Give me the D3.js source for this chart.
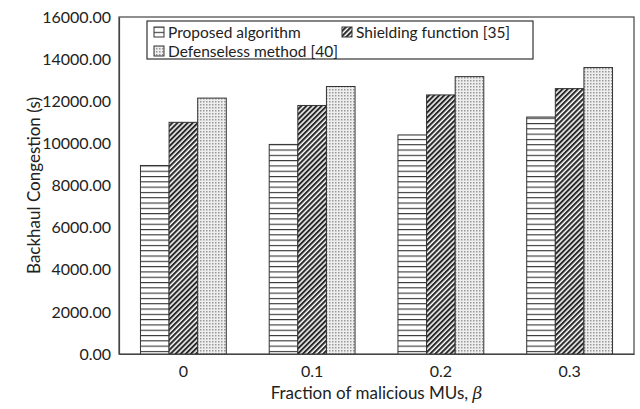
<!DOCTYPE html>
<html>
<head>
<meta charset="utf-8">
<script src="https://cdn.jsdelivr.net/npm/d3@7"></script>
<style>
  body { margin: 0; background: #fff; }
  text { font-family: Lato, "Open Sans", sans-serif; fill: #222; }
</style>
</head>
<body>
<div id="chart"></div>
<script>
// data
var categories = ["0", "0.1", "0.2", "0.3"];
var seriesNames = ["Proposed algorithm", "Shielding function [35]", "Defenseless method [40]"];
var proposed = [8950, 9950, 10400, 11250];
var shielding = [11000, 11800, 12300, 12600];
var defenseless = [12150, 12700, 13170, 13600];
var yTicks = [0, 2000, 4000, 6000, 8000, 10000, 12000, 14000, 16000];

var W = 640, H = 409;
var margin = {top: 17, right: 6, bottom: 55, left: 119};
var width = W - margin.left - margin.right,
    height = H - margin.top - margin.bottom;

var svg = d3.select("#chart").append("svg")
    .attr("width", W)
    .attr("height", H);

// fill patterns
var defs = svg.append("defs");
var p1 = defs.append("pattern").attr("id", "pat0")
    .attr("patternUnits", "userSpaceOnUse").attr("width", 6).attr("height", 5.3);
p1.append("rect").attr("width", 6).attr("height", 5.3).attr("fill", "#fff");
p1.append("line").attr("x1", 0).attr("x2", 6).attr("y1", 0.5).attr("y2", 0.5)
    .attr("stroke", "#333").attr("stroke-width", 1.2);

var p2 = defs.append("pattern").attr("id", "pat1")
    .attr("patternUnits", "userSpaceOnUse").attr("width", 3.6).attr("height", 3.6)
    .attr("patternTransform", "rotate(45)");
p2.append("rect").attr("width", 3.6).attr("height", 3.6).attr("fill", "#fff");
p2.append("rect").attr("width", 2.1).attr("height", 3.6).attr("fill", "#2a2a2a");

var p3 = defs.append("pattern").attr("id", "pat2")
    .attr("patternUnits", "userSpaceOnUse").attr("width", 3).attr("height", 3);
p3.append("rect").attr("width", 3).attr("height", 3).attr("fill", "#eee");
p3.append("rect").attr("width", 1.5).attr("height", 1.5).attr("fill", "#999");

var g = svg.append("g")
    .attr("transform", "translate(" + margin.left + "," + margin.top + ")");

var x0 = d3.scaleBand().domain(categories).range([0, width]).paddingInner(0).paddingOuter(0);
var barW = x0.bandwidth() / 4.5;
var x1 = d3.scaleBand().domain([0, 1, 2]).range([0, barW * 3]);
var y = d3.scaleLinear().domain([0, 16000]).range([height, 0]);

// plot frame
g.append("rect")
    .attr("width", width).attr("height", height)
    .attr("fill", "none").attr("stroke", "#444").attr("stroke-width", 1.2);

var series = [proposed, shielding, defenseless];
series.forEach(function(vals, s) {
  g.selectAll(".bar" + s)
    .data(vals)
    .enter().append("rect")
    .attr("class", "bar" + s)
    .attr("x", function(d, i) { return x0(categories[i]) + (x0.bandwidth() - barW * 3) / 2 + x1(s); })
    .attr("y", function(d) { return y(d); })
    .attr("width", barW)
    .attr("height", function(d) { return height - y(d); })
    .attr("fill", "url(#pat" + s + ")")
    .attr("stroke", "#333")
    .attr("stroke-width", 1);
});

// y axis
var yAxis = g.append("g")
    .call(d3.axisLeft(y).tickValues(yTicks).tickSize(0).tickPadding(8)
      .tickFormat(function(d) { return d.toFixed(2); }));
yAxis.select(".domain").attr("stroke", "#444").attr("stroke-width", 1.2);
yAxis.selectAll("text").style("font-size", "16px").attr("fill", "#222");

// x axis
var xAxis = g.append("g")
    .attr("transform", "translate(0," + height + ")")
    .call(d3.axisBottom(x0).tickSize(0).tickPadding(12));
xAxis.select(".domain").attr("stroke", "#444").attr("stroke-width", 1.2);
xAxis.selectAll("text").style("font-size", "16px").attr("fill", "#222");

// axis titles
svg.append("text")
    .attr("transform", "translate(33," + (margin.top + height / 2) + ") rotate(-90)")
    .attr("text-anchor", "middle")
    .attr("dominant-baseline", "central")
    .style("font-size", "17px")
    .text("Backhaul Congestion (s)");

var xt = svg.append("text")
    .attr("x", margin.left + width / 2)
    .attr("y", 399)
    .attr("text-anchor", "middle")
    .style("font-size", "17px");
xt.append("tspan").text("Fraction of malicious MUs, ");
xt.append("tspan").style("font-family", "'DejaVu Serif', serif").style("font-style", "italic").text("\u03B2");

// legend
var leg = svg.append("g");
leg.append("rect")
    .attr("x", 147).attr("y", 21).attr("width", 386).attr("height", 38)
    .attr("fill", "#fff").attr("stroke", "#333").attr("stroke-width", 1.2);
var legPos = [[154, 32], [342, 32], [154, 51]];
seriesNames.forEach(function(name, s) {
  var p = legPos[s];
  leg.append("rect")
    .attr("x", p[0]).attr("y", p[1] - 5).attr("width", 10).attr("height", 10)
    .attr("fill", "url(#pat" + s + ")").attr("stroke", "#333").attr("stroke-width", 1);
  leg.append("text")
    .attr("x", p[0] + 14).attr("y", p[1])
    .attr("dominant-baseline", "central")
    .style("font-size", "15.5px")
    .text(name);
});
</script>
</body>
</html>
